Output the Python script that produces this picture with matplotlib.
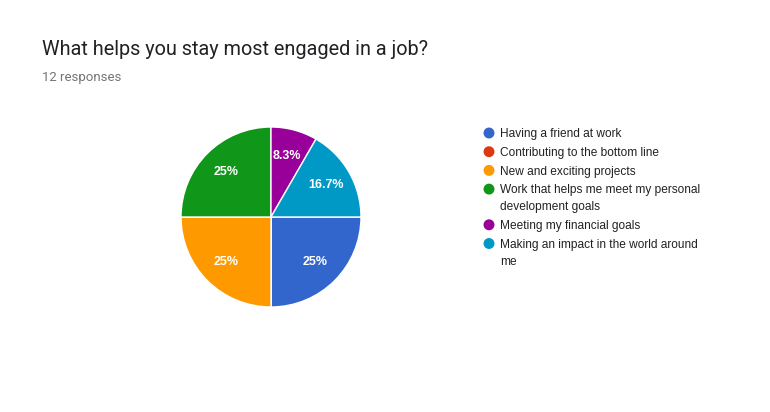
import matplotlib.pyplot as plt

plt.rcParams['font.family'] = ['Roboto', 'DejaVu Sans']

title = 'What helps you stay most engaged in a job?'
subtitle = '12 responses'
labels = ['Having a friend at work',
          'Contributing to the bottom line',
          'New and exciting projects',
          'Work that helps me meet my personal\ndevelopment goals',
          'Meeting my financial goals',
          'Making an impact in the world around\nme']
counts = [3, 0, 3, 3, 1, 2]
colors = ['#3366cc', '#dc3912', '#ff9900', '#109618', '#990099', '#0099c6']

W, H = 770, 412
fig = plt.figure(figsize=(W / 100, H / 100), dpi=100)
fig.patch.set_facecolor('white')

# pie, centre (271,217) radius 90 px
cx, cy, r = 271, 217, 90
ax = fig.add_axes([(cx - r) / W, (H - cy - r) / H, 2 * r / W, 2 * r / H])


def fmt(p):
    if p <= 0:
        return ''
    s = '{:.1f}'.format(p)
    if s.endswith('.0'):
        s = s[:-2]
    return s + '%'


wedges, texts, autotexts = ax.pie(counts, colors=colors, startangle=0, counterclock=False,
                                  autopct=fmt, pctdistance=0.7, radius=1,
                                  wedgeprops=dict(edgecolor='white', linewidth=1))
for t in autotexts:
    t.set_color('white')
    t.set_fontsize(9)
    t.set_fontweight('bold')
    t.set_family(['Liberation Sans', 'DejaVu Sans'])
ax.set_xlim(-1, 1)
ax.set_ylim(-1, 1)
ax.set_aspect('equal')
ax.axis('off')

# overlay in pixel coordinates for text and legend
ov = fig.add_axes([0, 0, 1, 1], facecolor='none')
ov.set_xlim(0, W)
ov.set_ylim(H, 0)
ov.axis('off')

ov.text(42, 49, title, fontsize=14.3, color='#202124', va='center', ha='left')
ov.text(42, 77, subtitle, fontsize=9.5, color='#757575', va='center', ha='left')

y = 133
for lab, c in zip(labels, colors):
    ov.scatter([489], [y], s=62, color=c, edgecolors='none')
    for i, line in enumerate(lab.split('\n')):
        ov.text(500, y + 4.3 + 17 * i, line, fontsize=8.6, color='#222222',
                va='baseline', ha='left', family=['Liberation Sans', 'DejaVu Sans'])
    nlines = lab.count('\n') + 1
    y += 18.7 + 17 * (nlines - 1)

fig.savefig('out.png', dpi=100, facecolor='white')
